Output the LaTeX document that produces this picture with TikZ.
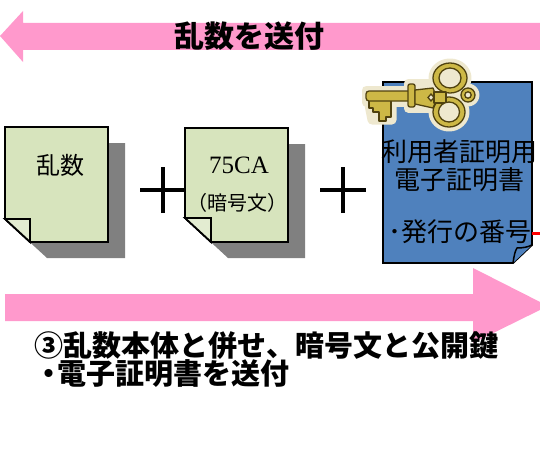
\documentclass[tikz,border=0pt]{standalone}
\usepackage{fontspec}
\newfontfamily\jp{Noto Sans CJK JP}
\newfontfamily\serifnum{Liberation Serif}
\definecolor{arrowpink}{RGB}{255,153,204}
\definecolor{notegreen}{RGB}{215,228,189}
\definecolor{certblue}{RGB}{79,129,189}
\definecolor{shadowgray}{RGB}{128,128,128}
\definecolor{keygold}{RGB}{205,184,70}
\definecolor{keydark}{RGB}{80,66,15}
\definecolor{keycream}{RGB}{238,232,207}
\tikzset{
  blockarrow/.style={fill=arrowpink, draw=none},
  notebox/.style={fill=notegreen, draw=black, line width=1.8pt, line join=miter},
  noteshadow/.style={fill=shadowgray, draw=none},
  plussign/.style={draw=black, line width=4.5pt},
  label/.style={font=\jp, inner sep=0pt},
  keypart/.style={fill=keygold, draw=keydark, line width=1.3pt, line join=round},
  keyhole/.style={fill=keycream, draw=keydark, line width=1.3pt},
  keyhalo/.style={fill=keycream, draw=keycream, line width=9pt, line join=round},
}
\begin{document}
\begin{tikzpicture}[x=1pt, y=-1pt]
\useasboundingbox (0,0) rectangle (540,452);

% upper arrow, pointing left
\fill[blockarrow] (0,36) -- (23,11) -- (23,23) -- (540,23) -- (540,50) -- (23,50) -- (23,62) -- cycle;
\node[label, font=\jp\bfseries\fontsize{30}{30}\selectfont] (sendtop) at (249,36) {乱数を送付};

% note 1: random number
\fill[noteshadow] (22,143) -- (125,143) -- (125,258) -- (47,258) -- (22,235) -- cycle;
\draw[notebox] (5,127) -- (108,127) -- (108,242) -- (30,242) -- (5,219) -- cycle;
\draw[black, line width=1.8pt, fill=notegreen!70!white] (5,219) -- (30,219) -- (30,242) -- cycle;
\node[label, font=\jp\fontsize{24}{24}\selectfont] (rand) at (60,165) {乱数};

% first plus
\coordinate (p1) at (163,190);
\draw[plussign] ([xshift=-23pt]p1) -- ([xshift=23pt]p1);
\draw[plussign] ([yshift=-23pt]p1) -- ([yshift=23pt]p1);

% note 2: cipher text
\fill[noteshadow] (202,144) -- (305,144) -- (305,258) -- (228,258) -- (202,234) -- cycle;
\draw[notebox] (185,128) -- (288,128) -- (288,242) -- (211,242) -- (185,218) -- cycle;
\draw[black, line width=1.8pt, fill=notegreen!70!white] (185,218) -- (211,218) -- (211,242) -- cycle;
\node[inner sep=0pt, font=\serifnum\fontsize{25}{25}\selectfont] (cipher) at (239,165) {75CA};
\node[label, font=\jp\fontsize{20}{20}\selectfont] (ciphernote) at (237,203) {（暗号文）};

% second plus
\coordinate (p2) at (343,190);
\draw[plussign] ([xshift=-23pt]p2) -- ([xshift=23pt]p2);
\draw[plussign] ([yshift=-23pt]p2) -- ([yshift=23pt]p2);

% certificate sheet
\draw[fill=certblue, draw=black, line width=1.8pt] (383,82) -- (532,82) -- (532,245) -- (513,263) -- (383,263) -- cycle;
\draw[black, line width=1.5pt, fill=certblue] (513,263) .. controls (514,256) and (515,251) .. (517,248) .. controls (523,248) and (528,247) .. (532,245);
\coordinate (certedge) at (532,233);
\coordinate (rightend) at (540,233);
\draw[red, line width=3pt] (certedge) -- (rightend);
\node[label, font=\jp\fontsize{26}{26}\selectfont] (cert1) at (459,152) {利用者証明用};
\node[label, font=\jp\fontsize{26}{26}\selectfont] (cert2) at (459,180) {電子証明書};
\node[label, font=\jp\fontsize{26}{26}\selectfont] (cert3) at (460,232) {･発行の番号};

% key over the certificate
\begin{scope}
  \path[keyhalo] (366,90) rectangle (415,102);
  \path[keyhalo] (368,100) -- (392,100) -- (392,120) -- (372,120) -- cycle;
  \path[keyhalo] (408,83) rectangle (432,108);
  \path[keyhalo] (450,78) ellipse (17 and 15);
  \path[keyhalo] (449,112) ellipse (16 and 15);
  \path[keyhalo] (468,95) circle (7);
  % bit
  \draw[keypart] (369,100) -- (391,100) -- (391,117) -- (386,117) -- (386,121) -- (379,121) -- (379,112) -- (373,112) -- (373,108) -- (369,108) -- cycle;
  % shaft
  \draw[keypart, rounded corners=3pt] (366,91) rectangle (411,101);
  % collar
  \draw[keypart, rounded corners=2pt] (408,84) rectangle (415,107);
  % neck towards the bow
  \draw[keypart] (415,90) -- (433,88) -- (436,96) -- (436,101) -- (433,108) -- (415,104) -- cycle;
  % bow rings
  \draw[keypart] (450,78) ellipse (17 and 15);
  \draw[keypart] (449,112) ellipse (16 and 15);
  \draw[keypart] (468,95) circle (7);
  \draw[keypart] (434,92) rectangle (446,103);
  \draw[keyhole] (450,78) ellipse (11 and 10);
  \draw[keyhole] (449,112) ellipse (10.5 and 10);
  \draw[keyhole] (468,95) circle (3.2);
  \draw[keyhole] (428,97.5) -- (431,94) -- (434,97.5) -- (431,101) -- cycle;
\end{scope}

% lower arrow, pointing right
\fill[blockarrow] (5,294) -- (473,294) -- (473,268) -- (548,306) -- (473,343) -- (473,321) -- (5,321) -- cycle;

% caption
\node[label, font=\jp\bfseries\fontsize{29}{28}\selectfont, anchor=north west, align=left] (caption) at (34,331)
  {③乱数本体と併せ、暗号文と公開鍵\\・\kern-6pt 電子証明書を送付};
\end{tikzpicture}
\end{document}
